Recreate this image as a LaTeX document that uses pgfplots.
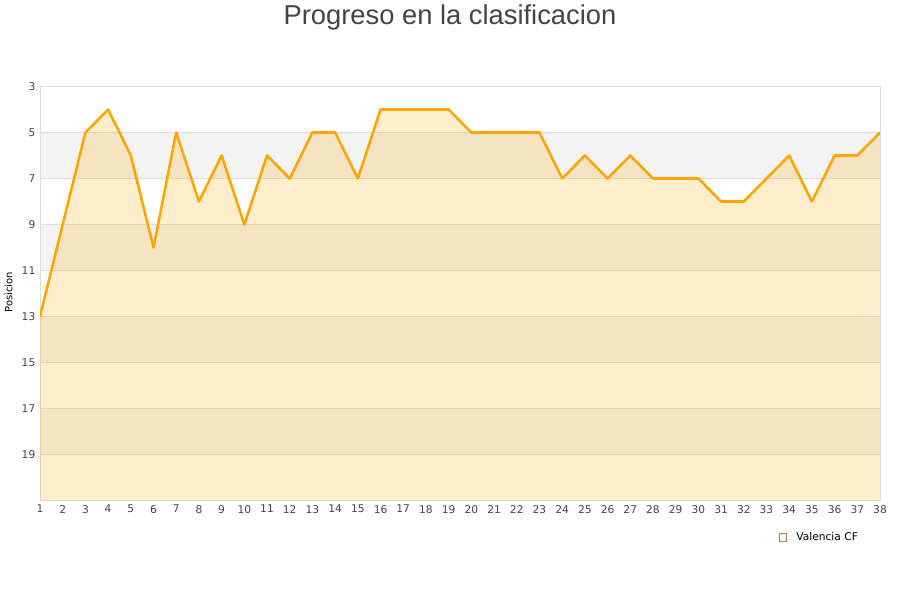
\documentclass[border=0pt]{standalone}
\usepackage{pgfplots}
\pgfplotsset{compat=1.18}
\usepackage{fontspec}
\setmainfont{DejaVu Sans}
\newfontfamily\titlefont{Liberation Sans}
\definecolor{band}{HTML}{F3F3F3}
\definecolor{gridc}{HTML}{DDDDDD}
\definecolor{lineor}{HTML}{FFA500}
\definecolor{txt}{HTML}{444444}
\begin{document}
\begin{tikzpicture}
\begin{axis}[
    set layers,
    at={(30pt,75pt)}, anchor=south west,
    scale only axis, width=630pt, height=310.5pt,
    xmin=1, xmax=38, ymin=3, ymax=21,
    y dir=reverse,
    xtick={1,...,38}, ytick={3,5,...,19},
    ymajorgrids, grid style={gridc, line width=0.6pt},
    axis line style={gridc, line width=0.6pt},
    major tick length=0pt,
    tick label style={font=\fontsize{8}{9}\selectfont, text=txt},
    /pgf/number format/assume math mode=true,
    ylabel={Posicion}, ylabel style={font=\fontsize{7.5}{9}\selectfont, text=black, xshift=1pt},
    legend style={at={(0.982,-0.089)}, anchor=east, draw=none, fill=none,
        font=\fontsize{8}{9}\selectfont},
    legend cell align=left,
]
\pgfplotsextra{%
\begin{pgfonlayer}{axis background}
\fill[band] (axis cs:1,5) rectangle (axis cs:38,7);
\fill[band] (axis cs:1,9) rectangle (axis cs:38,11);
\fill[band] (axis cs:1,13) rectangle (axis cs:38,15);
\fill[band] (axis cs:1,17) rectangle (axis cs:38,19);
\end{pgfonlayer}}
\addplot[draw=none, fill=lineor, fill opacity=0.2,
    legend image code/.code={\draw[fill=lineor!25, draw=brown!70!gray, line width=0.4pt] (0pt,-2.8pt) rectangle (5.6pt,2.8pt); \path (11pt,0pt);}]
 coordinates {(1,21) (1,13) (2,9) (3,5) (4,4) (5,6) (6,10) (7,5) (8,8) (9,6) (10,9)
 (11,6) (12,7) (13,5) (14,5) (15,7) (16,4) (17,4) (18,4) (19,4) (20,5)
 (21,5) (22,5) (23,5) (24,7) (25,6) (26,7) (27,6) (28,7) (29,7) (30,7)
 (31,8) (32,8) (33,7) (34,6) (35,8) (36,6) (37,6) (38,5) (38,21)} -- cycle;
\addlegendentry{Valencia CF}
\addplot[lineor, line width=1.9pt, line join=round, forget plot]
 coordinates {(1,13) (2,9) (3,5) (4,4) (5,6) (6,10) (7,5) (8,8) (9,6) (10,9)
 (11,6) (12,7) (13,5) (14,5) (15,7) (16,4) (17,4) (18,4) (19,4) (20,5)
 (21,5) (22,5) (23,5) (24,7) (25,6) (26,7) (27,6) (28,7) (29,7) (30,7)
 (31,8) (32,8) (33,7) (34,6) (35,8) (36,6) (37,6) (38,5)};
\end{axis}
\node[font=\titlefont\fontsize{20.5}{24}\selectfont, text=txt] at (337.5pt,437.5pt) {Progreso en la clasificacion};
\path[use as bounding box] (0,0) rectangle (675pt,450pt);
\end{tikzpicture}
\end{document}
